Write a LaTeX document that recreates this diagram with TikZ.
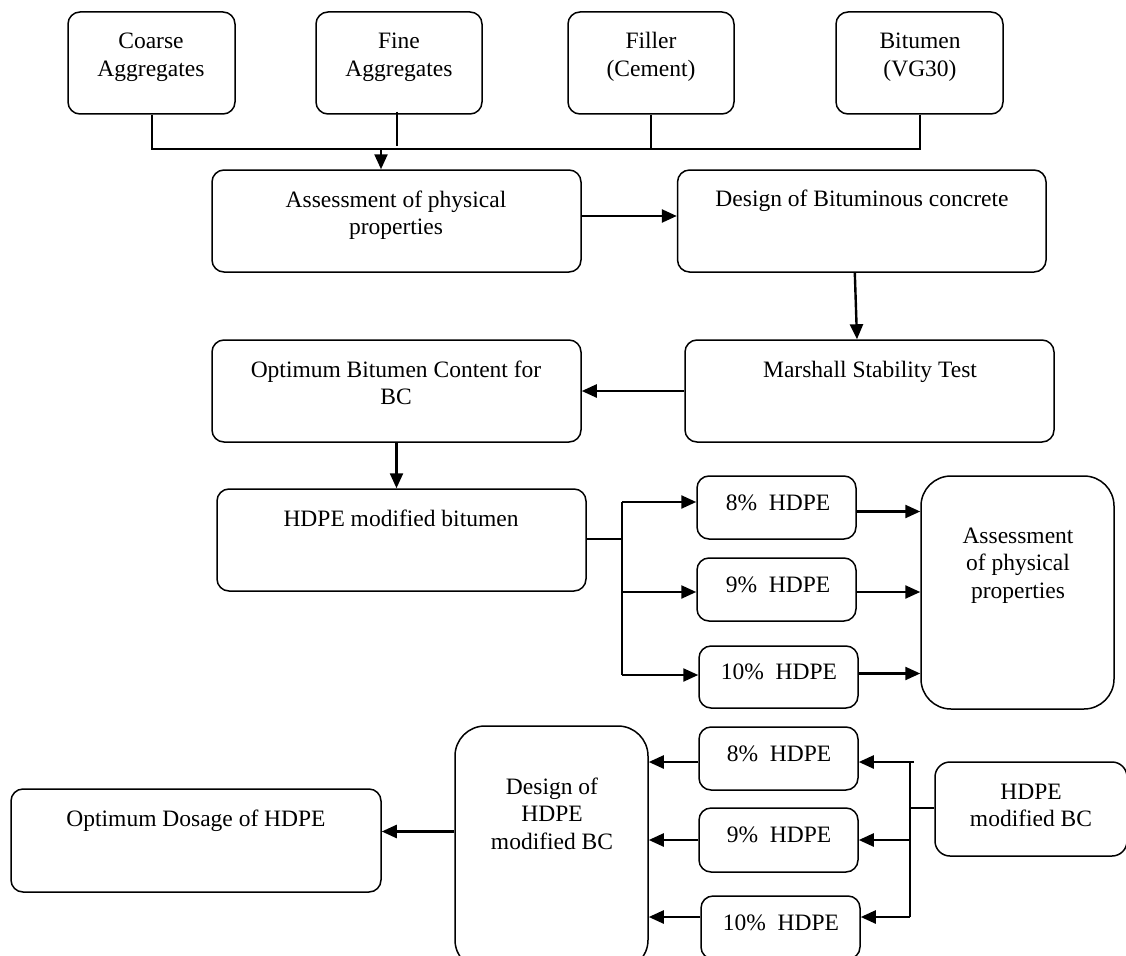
\documentclass[tikz,border=0pt]{standalone}
\usepackage{fontspec}
\setmainfont{Liberation Serif}
\usetikzlibrary{arrows.meta}
\tikzset{
  box/.style={draw, line width=1.5pt, rounded corners=12pt, inner sep=0pt},
  bigbox/.style={box, rounded corners=30pt},
  txt/.style={inner sep=0pt, align=center, anchor=base, font={\fontsize{23.5}{27.5}\selectfont}},
  conn/.style={line width=2pt},
  thin/.style={line width=1.3pt},
  arr/.style={line width=2.4pt, -{Triangle[length=15pt,width=13pt]}}
}
\begin{document}
\begin{tikzpicture}[x=1pt,y=-1pt]
\useasboundingbox (0,0) rectangle (1126,955);
\clip (0,0) rectangle (1126,955);
% top row
\node[box, minimum width=167pt, minimum height=102pt] (coarse) at (151.5,63) {};
\node[box, minimum width=166pt, minimum height=102pt] (fine) at (399,63) {};
\node[box, minimum width=166pt, minimum height=102pt] (filler) at (651,63) {};
\node[box, minimum width=167pt, minimum height=102pt] (bitumen) at (919.5,63) {};
\node[txt] (coarseT) at (151,76.5) {Coarse\\Aggregates};
\node[txt] (fineT) at (399,76.5) {Fine\\Aggregates};
\node[txt] (fillerT) at (651,76.5) {Filler\\(Cement)};
\node[txt] (bitumenT) at (920,76.5) {Bitumen\\(VG30)};
% second row
\node[box, minimum width=369pt, minimum height=102pt] (assess) at (396.5,221) {};
\node[txt] (assessT) at (396,234.8) {Assessment of physical\\properties};
\node[box, minimum width=368.5pt, minimum height=102pt] (design) at (861.8,221) {};
\node[txt] (designT) at (862,206.7) {Design of Bituminous concrete};
% third row
\node[box, minimum width=369pt, minimum height=102pt] (marshall) at (869.5,391) {};
\node[txt] (marshallT) at (870,377) {Marshall Stability Test};
\node[box, minimum width=369pt, minimum height=102pt] (optbc) at (396.5,391) {};
\node[txt] (optbcT) at (396,404.5) {Optimum Bitumen Content for\\BC};
% fourth row
\node[box, minimum width=369pt, minimum height=102pt] (hdpemb) at (401.5,540) {};
\node[txt] (hdpembT) at (401,526) {HDPE modified bitumen};
\node[box, minimum width=159pt, minimum height=63pt] (p8) at (776.5,507.5) {};
\node[txt] (p8T) at (778,510.7) {8\%~~HDPE};
\node[box, minimum width=159pt, minimum height=63pt] (p9) at (776.5,589.5) {};
\node[txt] (p9T) at (778,592.7) {9\%~~HDPE};
\node[box, minimum width=159pt, minimum height=62pt] (p10) at (778.5,677) {};
\node[txt] (p10T) at (779,679.3) {10\%~~HDPE};
\node[bigbox, minimum width=193pt, minimum height=233pt] (assess2) at (1017.5,592.5) {};
\node[txt] (assess2T) at (1018,598.3) {Assessment\\of physical\\properties};
% bottom row
\node[box, minimum width=370pt, minimum height=103pt] (optdose) at (196,840.5) {};
\node[txt] (optdoseT) at (196,826.7) {Optimum Dosage of HDPE};
\node[bigbox, minimum width=193pt, minimum height=244pt] (designh) at (551.5,848) {};
\node[txt] (designhT) at (552,849) {Design of\\HDPE\\modified BC};
\node[box, minimum width=159pt, minimum height=63pt] (q8) at (778.5,758.5) {};
\node[txt] (q8T) at (779,761) {8\%~~HDPE};
\node[box, minimum width=159pt, minimum height=64pt] (q9) at (778.5,840) {};
\node[txt] (q9T) at (779,842.7) {9\%~~HDPE};
\node[box, minimum width=159pt, minimum height=63pt] (q10) at (780.5,927.5) {};
\node[txt] (q10T) at (781,930) {10\%~~HDPE};
\node[box, rounded corners=15pt, minimum width=192pt, minimum height=94pt] (hdpebc) at (1031,809) {};
\node[txt] (hdpebcT) at (1031,826.5) {HDPE\\modified BC};
% coordinates
\coordinate (bus) at (381,149);
\coordinate (br) at (622,539);
\coordinate (br8) at (622,502);
\coordinate (br9) at (622,592);
\coordinate (br10) at (622,675);
\coordinate (bar8) at (910,762);
\coordinate (bar9) at (910,840);
\coordinate (bar10) at (910,917);
\coordinate (barm) at (910,808);
% top bus
\draw[conn] (coarse.south) |- (bitumen.south |- bus) -- (bitumen.south);
\draw[conn] (filler.south) -- (filler.south |- bus);
\draw[thin] ([xshift=-2pt,yshift=3pt]fine.south) -- ([xshift=-2pt]fine.south |- 0,146);
\draw[arr] (bus) -- (bus |- assess.north);
% main flow
\draw[arr] ([yshift=5pt]assess.east) -- ([yshift=5pt]assess.east -| design.west);
\draw[arr] ([xshift=-7pt]design.south) -- ([xshift=-12.5pt]marshall.north);
\draw[arr] (marshall.west) -- (optbc.east);
\draw[arr] (optbc.south) -- (optbc.south |- hdpemb.north);
% branch to percentages
\draw[thin] (hdpemb.east |- br) -- (br);
\draw[conn] (br8) -- (br10);
\draw[arr] (br8) -- (br8 -| p8.west);
\draw[arr] (br9) -- (br9 -| p9.west);
\draw[arr] (br10) -- (br10 -| p10.west);
\draw[arr] ([yshift=-4pt]p8.east) -- ([yshift=-4pt]p8.east -| assess2.west);
\draw[arr] ([yshift=-2.5pt]p9.east) -- ([yshift=-2.5pt]p9.east -| assess2.west);
\draw[arr] ([yshift=3.5pt]p10.east) -- ([yshift=3.5pt]p10.east -| assess2.west);
% lower branch
\draw[thin] (hdpebc.west |- barm) -- (barm);
\draw[conn] (bar8) -- (bar10);
\draw[arr] ([xshift=4pt]bar8) -- (bar8 -| q8.east);
\draw[arr] (bar9) -- (bar9 -| q9.east);
\draw[arr] (bar10) -- (bar10 -| q10.east);
\draw[arr] (bar8 -| q8.west) -- (bar8 -| designh.east);
\draw[arr] (bar9 -| q9.west) -- (bar9 -| designh.east);
\draw[arr] (bar10 -| q10.west) -- (bar10 -| designh.east);
\draw[arr] ([yshift=9pt]optdose.east -| designh.west) -- ([yshift=9pt]optdose.east);
\end{tikzpicture}
\end{document}
